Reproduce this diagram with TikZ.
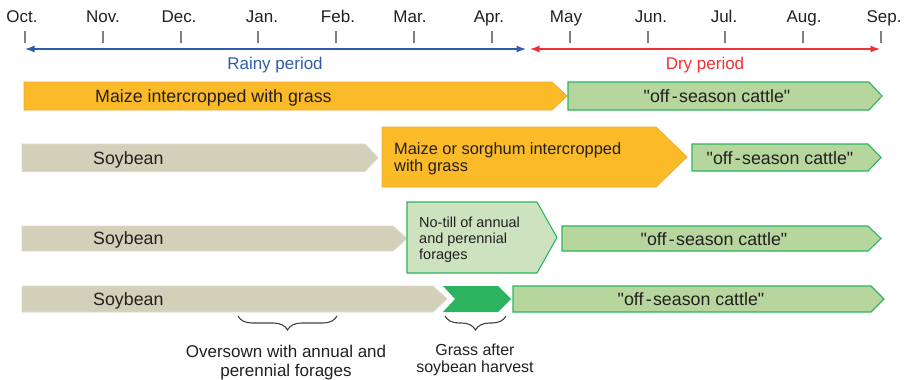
\documentclass[tikz,border=0pt]{standalone}
\usepackage{fontspec}
\setmainfont{Liberation Sans}[Ligatures=TeXOff]
\usetikzlibrary{arrows.meta,decorations.pathreplacing}
\definecolor{orangeF}{HTML}{FBBA27}
\definecolor{orangeD}{HTML}{F7A830}
\definecolor{soyF}{HTML}{D3D0B9}
\definecolor{soyD}{HTML}{DEDAC8}
\definecolor{grnF}{HTML}{B6D69D}
\definecolor{grnD}{HTML}{2DB462}
\definecolor{paleF}{HTML}{CDE3C0}
\definecolor{darkG}{HTML}{2BB35F}
\definecolor{blueA}{HTML}{2F5DAA}
\definecolor{redA}{HTML}{EE3135}
\definecolor{txt}{HTML}{231F20}
\definecolor{tickc}{HTML}{808080}
% style, x-left, y-top, x-flat, y-bottom, x-tip
\newcommand{\chevshape}[6]{\draw[#1] (#2,#3) -- (#4,#3) -- (#6,{(#3+#5)/2}) -- (#4,#5) -- (#2,#5) -- cycle;}
\newcommand{\offseason}{"off\kern2.5pt-\kern1.2pt season cattle"}
\tikzset{
  orangebox/.style={fill=orangeF, draw=orangeD, line width=0.8pt, line join=miter},
  soybox/.style={fill=soyF, draw=soyD, line width=0.8pt},
  grnbox/.style={fill=grnF, draw=grnD, line width=1.1pt},
  palebox/.style={fill=paleF, draw=grnD, line width=1.1pt},
  darkbox/.style={fill=darkG, draw=none},
  lbl/.style={font=\fontsize{17}{19}\selectfont, text=txt, inner sep=0pt},
  rowlbl/.style={font=\fontsize{17.8}{19}\selectfont, text=txt, inner sep=0pt},
  monthlbl/.style={font=\fontsize{17}{19}\selectfont, text=txt, inner sep=0pt, anchor=base},
  tickline/.style={draw=tickc, line width=1.5pt},
  period/.style={line width=1.3pt, {Latex[length=9.5pt,width=7pt]}-{Latex[length=9.5pt,width=7pt]}},
  bracestyle/.style={draw=txt!85, line width=1.1pt, decorate, decoration={brace, amplitude=14pt, mirror}}
}
\begin{document}
\begin{tikzpicture}[x=1pt,y=-1pt]
\useasboundingbox (0,0) rectangle (908,380);
% months
\foreach \lx/\tx/\nm/\name in {22/25/Oct./m1, 103/103/Nov./m2, 179/181/Dec./m3, 262/258/Jan./m4, 338/336/Feb./m5, 410/414/Mar./m6, 489/492/Apr./m7, 566/570/May/m8, 651/648/Jun./m9, 724/725/Jul./m10, 804/803/Aug./m11, 884/881/Sep./m12}{
  \node[monthlbl] (\name) at (\lx,23) {\nm};
  \draw[tickline] (\tx,31) -- (\tx,43);
}
% periods
\coordinate (rs) at (25,49);
\coordinate (re) at (526,49);
\coordinate (ds) at (530,49);
\coordinate (de) at (880,49);
\draw[period, blueA] (rs) -- (re);
\draw[period, redA] (ds) -- (de);
\node[lbl, anchor=base, text=blueA] (rainy) at (275,69) {Rainy period};
\node[lbl, anchor=base, text=redA] (dry) at (705,69) {Dry period};
% row 1
\chevshape{orangebox}{24}{82}{552}{110}{567}
\chevshape{grnbox}{568}{82}{869}{110}{882}
\node[rowlbl, anchor=base west] (r1a) at (95,102.5) {Maize intercropped with grass};
\node[rowlbl, anchor=base] (r1b) at (717,102.5) {\offseason};
% row 2
\chevshape{soybox}{22}{144}{365}{171.5}{378}
\chevshape{orangebox}{382}{127}{656}{187}{687}
\chevshape{grnbox}{692}{144}{868}{171}{881}
\node[rowlbl, anchor=base west] (r2a) at (93,164) {Soybean};
\node[lbl, font=\fontsize{16.4}{17}\selectfont, align=left, anchor=north west] (r2b) at (394,142) {Maize or sorghum intercropped\\with grass};
\node[rowlbl, anchor=base] (r2c) at (780,164.5) {\offseason};
% row 3
\chevshape{soybox}{22}{226}{393}{251}{407}
\chevshape{palebox}{407}{202}{537}{273}{557}
\chevshape{grnbox}{562}{226}{868}{251}{881}
\node[rowlbl, anchor=base west] (r3a) at (93,244) {Soybean};
\node[lbl, font=\fontsize{14.5}{16}\selectfont, align=left, anchor=north west] (r3b) at (419,216.7) {No-till of annual\\and perennial\\forages};
\node[rowlbl, anchor=base] (r3c) at (714,245) {\offseason};
% row 4
\chevshape{soybox}{22}{286}{433}{312}{447}
\draw[darkbox] (443,286) -- (498,286) -- (511,299) -- (498,312) -- (443,312) -- (455,299) -- cycle;
\chevshape{grnbox}{513}{286}{871}{312}{884}
\node[rowlbl, anchor=base west] (r4a) at (93,305) {Soybean};
\node[rowlbl, anchor=base] (r4c) at (691,305) {\offseason};
% braces
\coordinate (b1l) at (238,316);
\coordinate (b1r) at (337,316);
\coordinate (b2l) at (445,316);
\coordinate (b2r) at (506,316);
\draw[bracestyle] (b1l) -- (b1r);
\draw[bracestyle] (b2l) -- (b2r);
\node[lbl, align=center, anchor=north] (ov) at (286,344.6) {Oversown with annual and\\perennial forages};
\node[lbl, font=\fontsize{16}{17}\selectfont, align=center, anchor=north] (gr) at (475,343.3) {Grass after\\soybean harvest};
\end{tikzpicture}
\end{document}
